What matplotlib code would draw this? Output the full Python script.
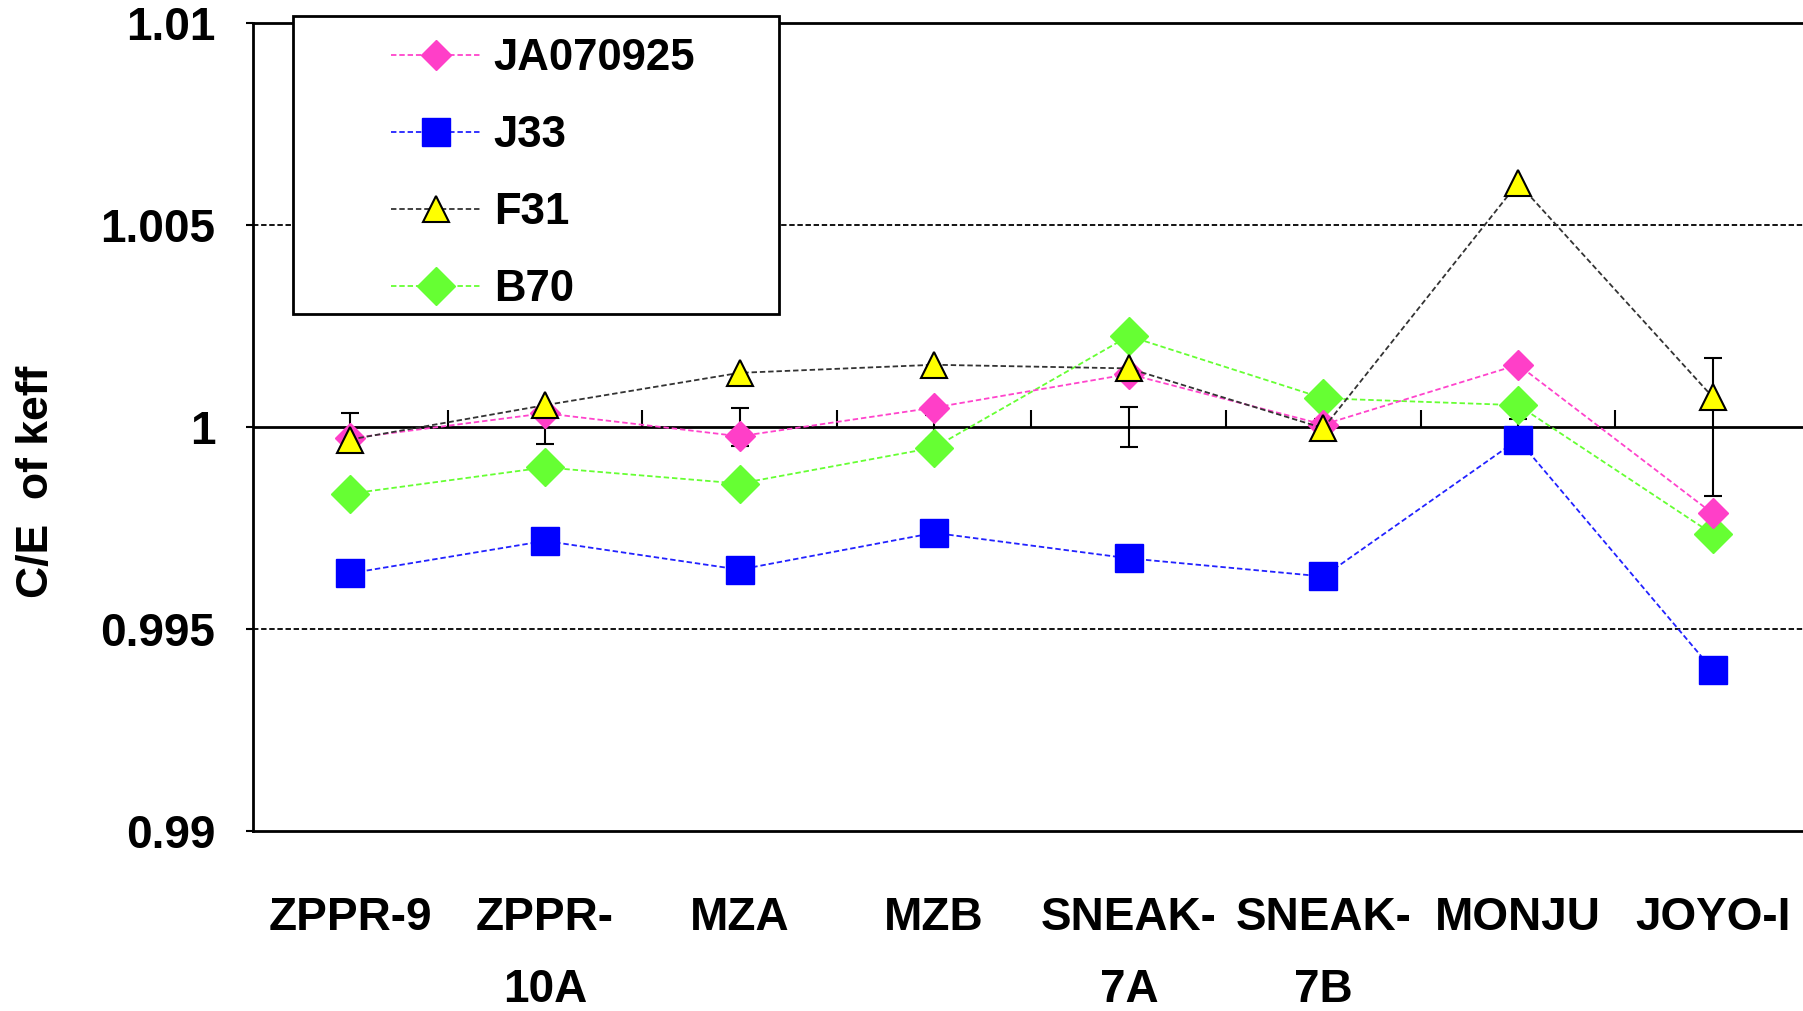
# ce_keff_plot.py
# C/E of keff for fast reactor benchmarks, four libraries
import matplotlib
matplotlib.use('Agg')
import matplotlib.pyplot as plt
from matplotlib.patches import Rectangle
import numpy as np

plt.rcParams['font.family'] = ['Liberation Sans', 'DejaVu Sans']
plt.rcParams['font.weight'] = 'bold'

cores = ['ZPPR-9', 'ZPPR-\n10A', 'MZA', 'MZB', 'SNEAK-\n7A', 'SNEAK-\n7B', 'MONJU', 'JOYO-I']

ja070925 = [0.99972, 1.00034, 0.99977, 1.00048, 1.00131, 1.00006, 1.00154, 0.99786]
j33      = [0.99638, 0.99718, 0.99647, 0.99738, 0.99675, 0.99630, 0.99969, 0.99399]
f31      = [0.99969, 1.00054, 1.00134, 1.00154, 1.00145, 0.99997, 1.00604, 1.00074]
b70      = [0.99835, 0.99900, 0.99860, 0.99949, 1.00225, 1.00071, 1.00054, 0.99735]

exp_val = [1.0, 1.0, 1.0, 1.0, 1.0, 1.0, 1.0, 1.0]
exp_err = [0.00035, 0.00043, 0.00047, 0.0003, 0.0005, 0.0002, 0.0002, 0.0017]

yticks = [0.99, 0.995, 1.0, 1.005, 1.01]
ylabels = ['0.99', '0.995', '1', '1.005', '1.01']

fs_tick = 33
fs_leg = 31.5

def main():
    fig = plt.figure(figsize=(18.03, 10.11), dpi=100)
    ax = fig.add_axes([0.1403, 0.178, 0.8636, 0.7993])
    x = np.arange(len(cores))

    ax.errorbar(x, exp_val, yerr=exp_err, fmt='none', ecolor='black',
                elinewidth=1.5, capsize=6.5, capthick=1.5, zorder=3)

    ls = (0, (3, 1.6))
    ax.plot(x, ja070925, linestyle=ls, color='#ff44cc', lw=1.3, marker='D',
            ms=15, mfc='#ff3fc8', mec='#ff3fc8', label='JA070925', zorder=5)
    ax.plot(x, j33, linestyle=ls, color='#2222ff', lw=1.3, marker='s',
            ms=20, mfc='#0000ff', mec='#0000ff', label='J33', zorder=5)
    ax.plot(x, f31, linestyle=ls, color='#333333', lw=1.3, marker='^',
            ms=19, mfc='#ffff00', mec='black', mew=1.5, label='F31', zorder=6)
    ax.plot(x, b70, linestyle=ls, color='#66ff33', lw=1.3, marker='D',
            ms=19, mfc='#66ff33', mec='#66ff33', label='B70', zorder=4)

    ax.set_xlim(-0.5, len(cores) - 0.5)
    ax.set_ylim(0.99, 1.01)
    ax.set_yticks(yticks)
    ax.set_yticklabels(ylabels, fontsize=fs_tick, fontweight='bold')
    ax.tick_params(axis='y', length=5, width=1.5, pad=22)
    ax.set_xticks(x)
    ax.set_xticklabels(cores, fontsize=fs_tick, fontweight='bold', linespacing=1.82, va='top')
    ax.tick_params(axis='x', length=0, pad=47)

    # grid lines and the x axis crossing at 1
    for yv in [0.995, 1.005]:
        ax.axhline(yv, color='black', lw=1.3, linestyle=(0, (3, 1.5)), zorder=1)
    ax.axhline(1.0, color='black', lw=2, zorder=2)
    ax.vlines(x[:-1] + 0.5, 1.0, 1.00043, color='black', lw=1.5, zorder=2)

    for s in ax.spines.values():
        s.set_linewidth(2)

    ax.set_ylabel('C/E  of keff', fontsize=32, fontweight='bold')
    ax.yaxis.set_label_coords(-0.139, 0.432)
    ax.yaxis.label.set_va('center')

    box = Rectangle((0.0257, 0.6399), 0.3121, 0.3688, transform=ax.transAxes,
                    fill=True, facecolor='white', edgecolor='black', lw=2,
                    clip_on=False, zorder=10)
    ax.add_patch(box)
    leg = ax.legend(loc='upper left', bbox_to_anchor=(0.0886, 0.981), frameon=False,
                    fontsize=fs_leg, handlelength=2.05, handletextpad=0.3,
                    labelspacing=0.82, borderpad=0, borderaxespad=0, numpoints=1)
    leg.set_zorder(11)
    for t in leg.get_texts():
        t.set_fontweight('bold')

    plt.savefig('out.png', dpi=100)
    plt.close(fig)

if __name__ == '__main__':
    main()
